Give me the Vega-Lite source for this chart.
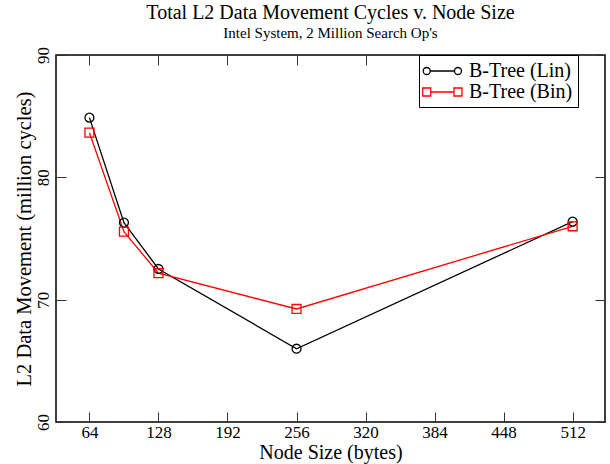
{
  "$schema": "https://vega.github.io/schema/vega-lite/v6.json",
  "width": 549,
  "height": 367,
  "autosize": {"type": "none"},
  "padding": {"left": 56, "top": 55, "right": 5, "bottom": 42},
  "background": "white",
  "title": {
    "text": "Total L2 Data Movement Cycles v. Node Size",
    "subtitle": "Intel System, 2 Million Search Op's",
    "font": "Liberation Serif",
    "fontSize": 20,
    "fontWeight": "normal",
    "color": "black",
    "subtitleFont": "Liberation Serif",
    "subtitleFontSize": 15,
    "subtitleColor": "black",
    "anchor": "middle",
    "offset": 6,
    "subtitlePadding": 3
  },
  "config": {
    "view": {"stroke": "#000000", "strokeWidth": 1.5},
    "axis": {
      "domain": false,
      "grid": false,
      "tickSize": -10,
      "tickColor": "#333333",
      "tickWidth": 1,
      "labelFont": "Liberation Serif",
      "labelFontSize": 17,
      "labelColor": "black",
      "titleFont": "Liberation Serif",
      "titleFontSize": 20,
      "titleFontWeight": "normal",
      "titleColor": "black",
      "labelFlush": false,
      "labelOverlap": false
    }
  },
  "data": {
    "values": [
      {"size": 64, "cycles": 84.88, "series": "B-Tree (Lin)"},
      {"size": 96, "cycles": 76.3, "series": "B-Tree (Lin)"},
      {"size": 128, "cycles": 72.51, "series": "B-Tree (Lin)"},
      {"size": 256, "cycles": 65.99, "series": "B-Tree (Lin)"},
      {"size": 512, "cycles": 76.38, "series": "B-Tree (Lin)"},
      {"size": 64, "cycles": 83.65, "series": "B-Tree (Bin)"},
      {"size": 96, "cycles": 75.56, "series": "B-Tree (Bin)"},
      {"size": 128, "cycles": 72.16, "series": "B-Tree (Bin)"},
      {"size": 256, "cycles": 69.24, "series": "B-Tree (Bin)"},
      {"size": 512, "cycles": 76.0, "series": "B-Tree (Bin)"}
    ]
  },
  "layer": [
    {
      "mark": {"type": "line", "strokeWidth": 1.3},
      "encoding": {
        "x": {
          "field": "size",
          "type": "quantitative",
          "scale": {"domain": [33, 542], "nice": false, "zero": false},
          "axis": {
            "orient": "bottom",
            "values": [64, 128, 192, 256, 320, 384, 448, 512],
            "title": "Node Size (bytes)",
            "labelPadding": 12,
            "titlePadding": 2
          }
        },
        "y": {
          "field": "cycles",
          "type": "quantitative",
          "scale": {"domain": [60, 90], "nice": false, "zero": false},
          "axis": {
            "orient": "left",
            "values": [60, 70, 80, 90],
            "title": "L2 Data Movement (million cycles)",
            "titleFontSize": 20.5,
            "labelAngle": 270,
            "labelAlign": "center",
            "labelBaseline": "bottom",
            "labelPadding": 14,
            "titlePadding": 0
          }
        },
        "color": {
          "field": "series",
          "type": "nominal",
          "scale": {"domain": ["B-Tree (Lin)", "B-Tree (Bin)"], "range": ["#000000", "#ff0000"]},
          "legend": {
            "title": null,
            "orient": "none",
            "legendX": 363,
            "legendY": 0,
            "fillColor": "white",
            "strokeColor": "black",
            "padding": 5,
            "cornerRadius": 0,
            "labelFont": "Liberation Serif",
            "labelFontSize": 20,
            "labelColor": "black",
            "labelLimit": 300,
            "symbolSize": 400,
            "symbolStrokeWidth": 1.3,
            "symbolFillColor": "transparent",
            "labelOffset": 23,
            "rowPadding": -3,
            "symbolType": {"expr": "datum.value === 'B-Tree (Lin)' ? 'M-1.18,0 A0.35,0.35 0 1,0 -0.48,0 A0.35,0.35 0 1,0 -1.18,0 M-0.48,0 L1.95,0 M1.95,0 A0.35,0.35 0 1,0 2.65,0 A0.35,0.35 0 1,0 1.95,0' : 'M-1.23,-0.4 L-0.43,-0.4 L-0.43,0.4 L-1.23,0.4 Z M-0.43,0 L1.9,0 M1.9,-0.4 L2.7,-0.4 L2.7,0.4 L1.9,0.4 Z'"}
          }
        }
      }
    },
    {
      "transform": [{"filter": "datum.series === 'B-Tree (Lin)'"}],
      "mark": {"type": "point", "shape": "circle", "filled": false, "size": 80, "strokeWidth": 1.3, "opacity": 1},
      "encoding": {
        "x": {
          "field": "size",
          "type": "quantitative",
          "axis": {"orient": "top", "values": [64, 128, 192, 256, 320, 384, 448, 512], "labels": false, "title": null}
        },
        "y": {
          "field": "cycles",
          "type": "quantitative",
          "axis": {"orient": "right", "values": [60, 70, 80, 90], "labels": false, "title": null}
        },
        "color": {"field": "series", "type": "nominal"}
      }
    },
    {
      "transform": [{"filter": "datum.series === 'B-Tree (Bin)'"}],
      "mark": {"type": "point", "shape": "square", "filled": false, "size": 80, "strokeWidth": 1.3, "opacity": 1},
      "encoding": {
        "x": {"field": "size", "type": "quantitative", "axis": null},
        "y": {"field": "cycles", "type": "quantitative", "axis": null},
        "color": {"field": "series", "type": "nominal"}
      }
    }
  ],
  "resolve": {"axis": {"x": "independent", "y": "independent"}}
}
